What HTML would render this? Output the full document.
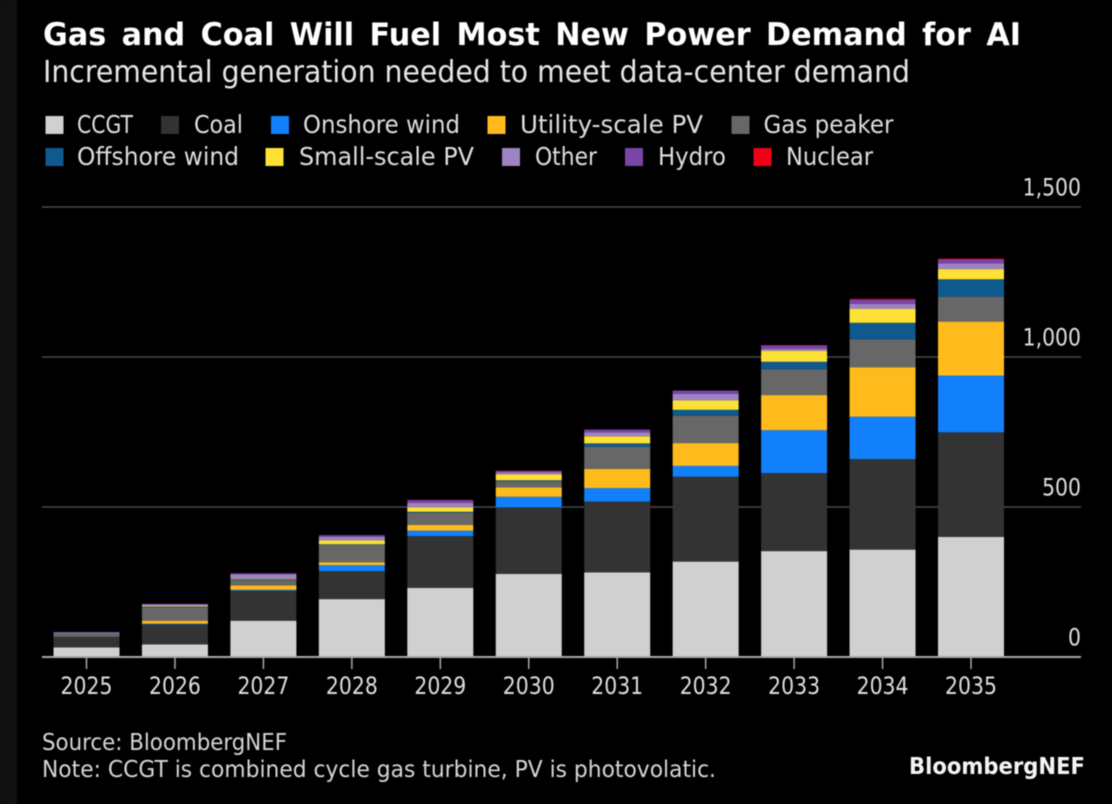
<!DOCTYPE html>
<html>
<head>
<meta charset="utf-8">
<title>Gas and Coal Will Fuel Most New Power Demand for AI</title>
<style>
html,body{margin:0;padding:0;background:#000;width:1112px;height:804px;overflow:hidden}
svg{display:block;filter:blur(0.5px)}
text{font-family:"DejaVu Sans","Liberation Sans",sans-serif;fill:#dedede}
</style>
</head>
<body>
<svg id="chart" xmlns="http://www.w3.org/2000/svg" width="1112" height="804" viewBox="0 0 1112 804">
  <rect x="0" y="0" width="1112" height="804" fill="#000"/>
  <rect x="0" y="0" width="17" height="804" fill="#111"/>

  <text x="43" y="45" font-size="31" font-weight="700" word-spacing="5" style="fill:#fff" textLength="978" lengthAdjust="spacingAndGlyphs">Gas and Coal Will Fuel Most New Power Demand for AI</text>
  <text x="43" y="82" font-size="30" style="fill:#e6e6e6" textLength="867" lengthAdjust="spacingAndGlyphs">Incremental generation needed to meet data-center demand</text>

  <g font-size="25">
    <g><rect x="45.5" y="116" width="18" height="18" fill="#d0d0d0"/><text x="77" y="133" textLength="56" lengthAdjust="spacingAndGlyphs">CCGT</text></g>
    <g><rect x="161" y="116" width="18" height="18" fill="#333333"/><text x="194" y="133" textLength="49" lengthAdjust="spacingAndGlyphs">Coal</text></g>
    <g><rect x="271" y="116" width="18" height="18" fill="#1280fb"/><text x="303" y="133" textLength="157" lengthAdjust="spacingAndGlyphs">Onshore wind</text></g>
    <g><rect x="487.5" y="116" width="18" height="18" fill="#ffbb1c"/><text x="520" y="133" textLength="183" lengthAdjust="spacingAndGlyphs">Utility-scale PV</text></g>
    <g><rect x="731.5" y="116" width="18" height="18" fill="#676767"/><text x="763.5" y="133" textLength="130" lengthAdjust="spacingAndGlyphs">Gas peaker</text></g>
    <g><rect x="45.5" y="148" width="18" height="18" fill="#0f5a8c"/><text x="77" y="165" textLength="162" lengthAdjust="spacingAndGlyphs">Offshore wind</text></g>
    <g><rect x="265.5" y="148" width="18" height="18" fill="#ffe135"/><text x="299" y="165" textLength="175" lengthAdjust="spacingAndGlyphs">Small-scale PV</text></g>
    <g><rect x="502" y="148" width="18" height="18" fill="#9c84c0"/><text x="535" y="165" textLength="62" lengthAdjust="spacingAndGlyphs">Other</text></g>
    <g><rect x="625" y="148" width="18" height="18" fill="#7a45a8"/><text x="658" y="165" textLength="68" lengthAdjust="spacingAndGlyphs">Hydro</text></g>
    <g><rect x="753.5" y="148" width="18" height="18" fill="#f00018"/><text x="786" y="165" textLength="87" lengthAdjust="spacingAndGlyphs">Nuclear</text></g>
  </g>

  <g id="grid"></g>
  <g id="bars"></g>
  <g id="xaxis"></g>
  <g id="yaxis"></g>

  <text x="42" y="750" font-size="23" style="fill:#d6d6d6" textLength="245" lengthAdjust="spacingAndGlyphs">Source: BloombergNEF</text>
  <text x="42" y="777" font-size="23" style="fill:#d6d6d6" textLength="674" lengthAdjust="spacingAndGlyphs">Note: CCGT is combined cycle gas turbine, PV is photovolatic.</text>
  <text x="909" y="774" font-size="23" font-weight="700" style="fill:#f4f4f4" textLength="176" lengthAdjust="spacingAndGlyphs">BloombergNEF</text>
</svg>
<script>
const years = ['2025','2026','2027','2028','2029','2030','2031','2032','2033','2034','2035'];
const yTicks = [0, 500, 1000, 1500];
const yTickLabels = ['0', '500', '1,000', '1,500'];
const ccgt = [32, 42, 121, 193, 230, 277, 282, 318, 353, 358, 400];
const coal = [35, 67, 100, 93, 173, 222, 236, 283, 260, 302, 349];
const onshoreWind = [0, 2, 3, 20, 18, 35, 45, 36, 143, 141, 189];
const utilityPv = [0, 10, 15, 10, 19, 31, 64, 76, 117, 165, 180];
const gasPeaker = [12, 45, 18, 59, 41, 21, 74, 91, 86, 93, 83];
const offshoreWind = [0, 2, 2, 1, 3, 3, 11, 20, 25, 55, 58];
const smallPv = [0, 2, 2, 13, 15, 20, 24, 31, 37, 46, 34];
const other = [3, 5, 14, 12, 15, 7, 13, 22, 6, 17, 19];
const hydro = [1, 2, 4, 5, 9, 4, 9, 11, 12, 14, 13];
const nuclear = [0, 0, 0, 0, 1, 1, 0, 0, 1, 3, 3];

const seriesNames = ['ccgt','coal','onshore-wind','utility-pv','gas-peaker','offshore-wind','small-pv','other','hydro','nuclear'];
const seriesValues = [ccgt, coal, onshoreWind, utilityPv, gasPeaker, offshoreWind, smallPv, other, hydro, nuclear];
const seriesColors = ['#d0d0d0','#333333','#1280fb','#ffbb1c','#676767','#0f5a8c','#ffe135','#9c84c0','#7a45a8','#d8002a'];

const NS = 'http://www.w3.org/2000/svg';
const plotLeft = 42, plotRight = 1081, baseY = 657, pxPerUnit = 0.3;
const bandStep = 88.45, barWidth = 66;
function yScale(v){ return baseY - v * pxPerUnit; }
function xCenter(i){ return plotLeft + 44.5 + i * bandStep; }
function make(tag, attrs, parent){
  const el = document.createElementNS(NS, tag);
  for (const k in attrs) el.setAttribute(k, attrs[k]);
  parent.appendChild(el);
  return el;
}

const grid = document.getElementById('grid');
const yaxis = document.getElementById('yaxis');
yTicks.forEach(function(t, i){
  if (t !== 0) {
    const line = make('line', {x1: plotLeft, x2: plotRight, y1: yScale(t), y2: yScale(t), stroke: '#4a4a4a', 'stroke-width': 1.6}, grid);
    
    
  }
  const y = yScale(t) - 11.5;
  const label = make('text', {transform: 'translate(' + plotRight + ',' + y + ') scale(0.85,1)', 'text-anchor': 'end', 'font-size': 24}, yaxis);
  label.textContent = yTickLabels[i];
  
  
});

const bars = document.getElementById('bars');
years.forEach(function(year, i){
  let cum = 0;
  const g = make('g', {}, bars);
  
  
  seriesValues.forEach(function(vals, s){
    const v = vals[i];
    if (v > 0) {
      const r = make('rect', {x: xCenter(i) - barWidth / 2, width: barWidth, y: yScale(cum + v), height: v * pxPerUnit, fill: seriesColors[s]}, g);
      
      
    }
    cum += v;
  });
});

const xaxis = document.getElementById('xaxis');
const axisLine = make('line', {x1: plotLeft, x2: plotRight, y1: baseY, y2: baseY, stroke: '#a8a8a8', 'stroke-width': 2}, xaxis);


years.forEach(function(year, i){
  const tick = make('line', {x1: xCenter(i), x2: xCenter(i), y1: baseY, y2: 669, stroke: '#a8a8a8', 'stroke-width': 1.5}, xaxis);
  
  
  const label = make('text', {transform: 'translate(' + xCenter(i) + ',694) scale(0.85,1)', 'text-anchor': 'middle', 'font-size': 24}, xaxis);
  label.textContent = year;
  
  
});
</script>
</body>
</html>
